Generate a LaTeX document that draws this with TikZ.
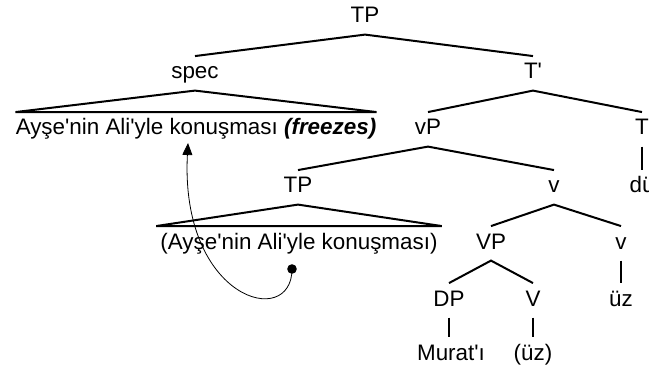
\documentclass[tikz,border=0pt]{standalone}
\usepackage{fontspec}
\setmainfont{Liberation Sans}
\usepackage{tikz}
\usetikzlibrary{arrows.meta}
\newcommand{\ap}{\textquotesingle}

\begin{document}
\begin{tikzpicture}[
    x=0.75pt, y=-0.75pt,
    lab/.style={anchor=base, inner xsep=2pt, inner ysep=5pt, text height=12pt, text depth=3.5pt, font=\fontsize{16.8}{20}\selectfont},
    branch/.style={line width=1.5pt},
    movearrow/.style={-{Triangle[length=9pt,width=7.5pt]}, line width=0.6pt}
]
    \clip (0,0) rectangle (649,370);
    % upper tree
    \node[lab] (tp) at (365,23) {TP};
    \node[lab] (spec) at (195,79) {spec};
    \node[lab] (tbar) at (533,79) {T\ap};
    \node[lab, inner xsep=0pt] (spectext) at (196,135) {Ayşe\ap nin Ali\ap yle konuşması \textbf{\textit{(freezes)}}};
    \node[lab] (vp) at (428,135) {vP};
    \node[lab] (thead) at (642,135) {T};
    \node[lab] (tp2) at (298,193) {TP};
    \node[lab] (lv) at (554,193) {v};
    \node[lab] (du) at (642,193) {dü};
    % lower tree
    \node[lab, inner xsep=3pt] (tp2text) at (299,249) {(Ayşe\ap nin Ali\ap yle konuşması)};
    \node[lab] (vvp) at (491,249) {VP};
    \node[lab] (lv2) at (621,249) {v};
    \node[lab] (dp) at (449,306) {DP};
    \node[lab] (vhead) at (533,306) {V};
    \node[lab] (uz) at (621,306) {üz};
    \node[lab] (murat) at (451,360) {Murat\ap ı};
    \node[lab] (uzcopy) at (533,360) {(üz)};

    \draw[branch] (spec.north) -- (tp.south) -- (tbar.north);
    \draw[branch] (spec.south) -- (spectext.north west) -- (spectext.north east) -- cycle;
    \draw[branch] (vp.north) -- (tbar.south) -- (thead.north);
    \draw[branch] (thead.south) -- (thead.south |- du.north);
    \draw[branch] (tp2.north) -- (vp.south) -- (lv.north);
    \draw[branch] (tp2.south) -- (tp2text.north west) -- (tp2text.north east) -- cycle;
    \draw[branch] (vvp.north) -- (lv.south) -- (lv2.north);
    \draw[branch] (lv2.south) -- (lv2.south |- uz.north);
    \draw[branch] (dp.north) -- (vvp.south) -- (vhead.north);
    \draw[branch] (dp.south) -- (dp.south |- murat.north);
    \draw[branch] (vhead.south) -- (vhead.south |- uzcopy.north);

    % movement
    \coordinate (trace) at (292,269);
    \coordinate (landing) at (188,143);
    \fill (trace) circle (3.6pt);
    \draw[movearrow] (trace) .. controls (292,330) and (180,300) .. (landing);
\end{tikzpicture}
\end{document}
